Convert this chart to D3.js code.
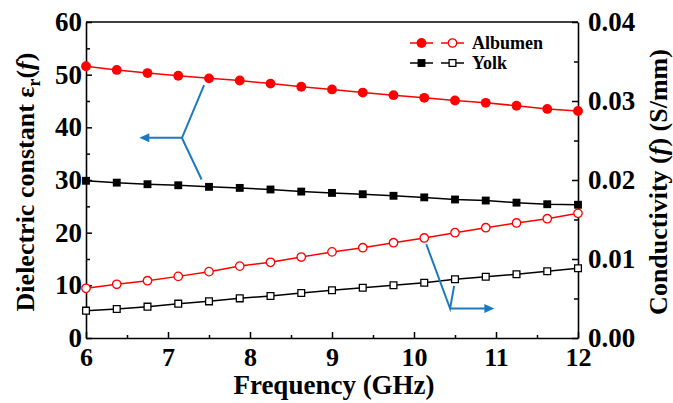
<!DOCTYPE html>
<html>
<head>
<meta charset="utf-8">
<script src="https://cdn.jsdelivr.net/npm/d3@7"></script>
<style>
  body { margin: 0; background: #fff; }
</style>
</head>
<body>
<div id="chart"></div>
<script>
const freq = [6, 6.375, 6.75, 7.125, 7.5, 7.875, 8.25, 8.625, 9, 9.375, 9.75, 10.125, 10.5, 10.875, 11.25, 11.625, 12];
const albumenEps = [51.6, 50.9, 50.3, 49.8, 49.3, 48.9, 48.3, 47.7, 47.2, 46.6, 46.1, 45.6, 45.1, 44.65, 44.1, 43.5, 43.1];
const yolkEps = [29.85, 29.5, 29.2, 29.0, 28.7, 28.5, 28.2, 27.8, 27.55, 27.3, 27.0, 26.7, 26.3, 26.1, 25.7, 25.4, 25.3];
const albumenSigma = [0.00629, 0.0068, 0.00725, 0.0078, 0.0084, 0.0091, 0.00958, 0.01025, 0.0109, 0.01143, 0.01206, 0.01266, 0.01333, 0.01396, 0.01456, 0.0151, 0.01578];
const yolkSigma = [0.00346, 0.00367, 0.00397, 0.00435, 0.00464, 0.00502, 0.00532, 0.0057, 0.00605, 0.00637, 0.00667, 0.007, 0.00743, 0.00776, 0.00806, 0.00844, 0.00882];
const xTicks = [6, 7, 8, 9, 10, 11, 12];
const leftTicks = [0, 10, 20, 30, 40, 50, 60];
const rightTicks = [0, 0.01, 0.02, 0.03, 0.04];
// arrow annotations, in data units (x, left axis)
const leftArrow = [[7.44, 48.0], [7.17, 38.0], [7.41, 30.1]];
const leftArrowTip = [[7.17, 38.0], [6.65, 38.0]];
const rightArrow = [[10.15, 17.8], [10.44, 5.6], [10.49, 9.9]];
const rightArrowTip = [[10.44, 5.6], [10.98, 5.6]];

const W = 673, H = 403;
const m = { left: 86, right: 578, top: 22, bottom: 338 };
const FONT = "'Liberation Serif'";

const svg = d3.select("#chart").append("svg")
    .attr("width", W)
    .attr("height", H);

const x = d3.scaleLinear().domain([6, 12]).range([m.left, m.right]);
const yL = d3.scaleLinear().domain([0, 60]).range([m.bottom, m.top]);
const yR = d3.scaleLinear().domain([0, 0.04]).range([m.bottom, m.top]);

// minor ticks first
svg.append("g")
    .attr("transform", "translate(0," + m.bottom + ")")
    .call(d3.axisBottom(x).tickValues(d3.range(6.5, 12, 1)).tickSizeInner(-3).tickSizeOuter(0).tickFormat(""))
    .call(g => g.select(".domain").remove());
svg.append("g")
    .attr("transform", "translate(" + m.left + ",0)")
    .call(d3.axisLeft(yL).tickValues(d3.range(5, 60, 10)).tickSizeInner(-4).tickSizeOuter(0).tickFormat(""))
    .call(g => g.select(".domain").remove());
svg.append("g")
    .attr("transform", "translate(" + m.right + ",0)")
    .call(d3.axisRight(yR).tickValues([0.005, 0.015, 0.025, 0.035]).tickSizeInner(-4).tickSizeOuter(0).tickFormat(""))
    .call(g => g.select(".domain").remove());

const xAxis = svg.append("g")
    .attr("transform", "translate(0," + m.bottom + ")")
    .call(d3.axisBottom(x).tickValues(xTicks).tickSizeInner(-6).tickSizeOuter(0).tickPadding(10).tickFormat(d3.format("d")));
const lAxis = svg.append("g")
    .attr("transform", "translate(" + m.left + ",0)")
    .call(d3.axisLeft(yL).tickValues(leftTicks).tickSizeInner(-6).tickSizeOuter(0).tickPadding(4));
const rAxis = svg.append("g")
    .attr("transform", "translate(" + m.right + ",0)")
    .call(d3.axisRight(yR).tickValues(rightTicks).tickSizeInner(-6).tickSizeOuter(0).tickPadding(10).tickFormat(d3.format(".2f")));

svg.selectAll(".tick line").attr("stroke", "#000").attr("stroke-width", 1.5);
svg.selectAll(".domain").attr("stroke", "#000").attr("stroke-width", 1.6);
xAxis.selectAll("text").attr("font-size", 26).attr("fill", "#000");
lAxis.selectAll("text").attr("font-size", 27).attr("fill", "#000");
rAxis.selectAll("text").attr("font-size", 27).attr("fill", "#000");

// top border
svg.append("line")
    .attr("x1", m.left).attr("x2", m.right)
    .attr("y1", m.top).attr("y2", m.top)
    .attr("stroke", "#000").attr("stroke-width", 1.6);

function drawSeries(values, yScale, color, shape, filled) {
    const pts = freq.map((f, i) => [x(f), yScale(values[i])]);
    svg.append("path")
        .datum(pts)
        .attr("fill", "none")
        .attr("stroke", color)
        .attr("stroke-width", 1.5)
        .attr("d", d3.line());
    const sym = d3.symbol().type(shape === "circle" ? d3.symbolCircle : d3.symbolSquare).size(shape === "circle" ? (filled ? 76 : 56) : (filled ? 62 : 46));
    svg.append("g").selectAll("path")
        .data(pts)
        .join("path")
        .attr("transform", d => "translate(" + d[0] + "," + d[1] + ")")
        .attr("d", sym)
        .attr("fill", filled ? color : "#fff")
        .attr("stroke", color)
        .attr("stroke-width", filled ? 0 : 1.3);
}

drawSeries(albumenEps, yL, "#ff0000", "circle", true);
drawSeries(yolkEps, yL, "#000", "square", true);
drawSeries(albumenSigma, yR, "#ff0000", "circle", false);
drawSeries(yolkSigma, yR, "#000", "square", false);

// arrows
const blue = "#1b7abf";
function drawArrow(path, tip) {
    svg.append("path")
        .datum(path.map(p => [x(p[0]), yL(p[1])]))
        .attr("fill", "none").attr("stroke", blue).attr("stroke-width", 2)
        .attr("d", d3.line());
    const a = [x(tip[0][0]), yL(tip[0][1])], b = [x(tip[1][0]), yL(tip[1][1])];
    const dir = Math.sign(b[0] - a[0]);
    svg.append("line")
        .attr("x1", a[0]).attr("y1", a[1])
        .attr("x2", b[0] - dir * 8).attr("y2", b[1])
        .attr("stroke", blue).attr("stroke-width", 2);
    svg.append("path")
        .attr("d", "M" + b[0] + "," + b[1] + "L" + (b[0] - dir * 10) + "," + (b[1] - 4.5) + "L" + (b[0] - dir * 10) + "," + (b[1] + 4.5) + "Z")
        .attr("fill", blue);
}
drawArrow(leftArrow, leftArrowTip);
drawArrow(rightArrow, rightArrowTip);

// legend
const legend = [
    { name: "Albumen", color: "#ff0000", shape: "circle", y: 43 },
    { name: "Yolk", color: "#000", shape: "square", y: 63 }
];
legend.forEach(l => {
    [[410, 433, true], [441, 464, false]].forEach(s => {
        svg.append("line")
            .attr("x1", s[0]).attr("x2", s[1]).attr("y1", l.y).attr("y2", l.y)
            .attr("stroke", l.color).attr("stroke-width", 1.5);
        const sym = d3.symbol().type(l.shape === "circle" ? d3.symbolCircle : d3.symbolSquare).size(l.shape === "circle" ? (s[2] ? 76 : 56) : (s[2] ? 62 : 46));
        svg.append("path")
            .attr("transform", "translate(" + (s[0] + s[1]) / 2 + "," + l.y + ")")
            .attr("d", sym)
            .attr("fill", s[2] ? l.color : "#fff")
            .attr("stroke", l.color)
            .attr("stroke-width", s[2] ? 0 : 1.3);
    });
    svg.append("text")
        .attr("x", 472).attr("y", l.y + 6)
        .attr("font-size", 18)
        .text(l.name);
});

// axis titles
svg.append("text")
    .attr("x", 334).attr("y", 394)
    .attr("text-anchor", "middle")
    .attr("font-size", 27)
    .text("Frequency (GHz)");

const ly = svg.append("text")
    .attr("transform", "translate(34,182) rotate(-90)")
    .attr("text-anchor", "middle")
    .attr("font-size", 26);
ly.append("tspan").text("Dielectric constant ε");
ly.append("tspan").attr("font-size", 18).attr("dy", 6).text("r");
ly.append("tspan").attr("dy", -6).text("(");
ly.append("tspan").attr("font-style", "italic").text("f");
ly.append("tspan").text(")");

const ry = svg.append("text")
    .attr("transform", "translate(667,182) rotate(-90)")
    .attr("text-anchor", "middle")
    .attr("font-size", 26);
ry.append("tspan").text("Conductivity (");
ry.append("tspan").attr("font-style", "italic").text("f");
ry.append("tspan").text(") (S/mm)");

svg.selectAll("text")
    .style("font-family", FONT)
    .style("font-weight", "bold");
</script>
</body>
</html>
